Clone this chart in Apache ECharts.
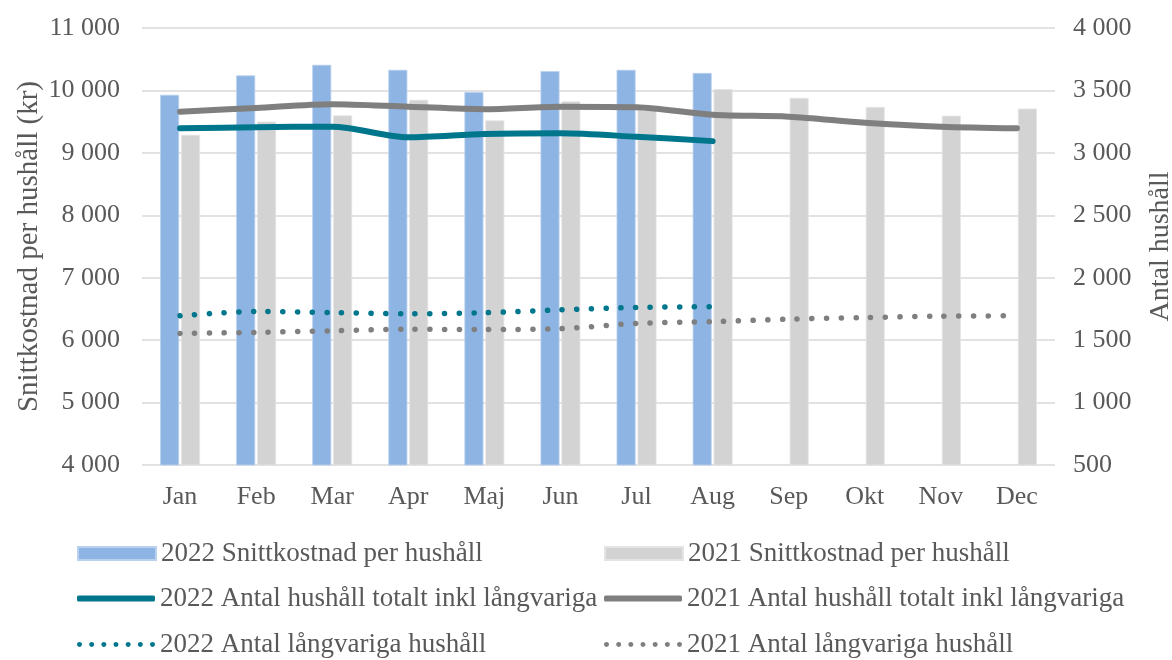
<!DOCTYPE html>
<html>
<head>
<meta charset="utf-8">
<script src="https://cdn.jsdelivr.net/npm/echarts@6/dist/echarts.min.js"></script>
<style>
html,body{margin:0;padding:0;background:#fff;}
#chart{width:1172px;height:660px;}
</style>
</head>
<body>
<div id="chart"></div>
<script>
const months = ['Jan','Feb','Mar','Apr','Maj','Jun','Jul','Aug','Sep','Okt','Nov','Dec'];
const cost2022 = [9930, 10240, 10410, 10330, 9975, 10310, 10330, 10280];
const cost2021 = [9290, 9500, 9600, 9850, 9520, 9825, 9720, 10020, 9880, 9735, 9595, 9710];
const total2022 = [3197, 3205, 3210, 3125, 3151, 3157, 3129, 3094];
const total2021 = [3330, 3360, 3390, 3370, 3350, 3370, 3366, 3305, 3290, 3242, 3210, 3197];
const long2022 = [1695, 1730, 1721, 1711, 1720, 1743, 1762, 1768];
const long2021 = [1554, 1562, 1575, 1587, 1585, 1592, 1634, 1648, 1668, 1681, 1692, 1695];
const names = [
  '2022 Snittkostnad per hushåll',
  '2021 Snittkostnad per hushåll',
  '2022 Antal hushåll totalt inkl långvariga',
  '2021 Antal hushåll totalt inkl långvariga',
  '2022 Antal långvariga hushåll',
  '2021 Antal långvariga hushåll'
];

const FONT = 'Liberation Serif';
const TXT = '#595959';
const BLUE = '#8EB4E3', LGREY = '#D3D3D3', TEAL = '#00768D', DGREY = '#7F7F7F';

function fmt(v){ return String(v).replace(/\B(?=(\d{3})+(?!\d))/g, ' '); }

// dotted legend icon: 7 circles in a 78x5 box
let dots = '';
for (let i = 0; i < 7; i++) {
  const cx = 2.5 + i * 12.17;
  dots += 'M' + (cx - 2.5).toFixed(2) + ',2.5 a2.5,2.5 0 1,0 5,0 a2.5,2.5 0 1,0 -5,0 Z ';
}
const dotIcon = 'path://' + dots;

const legendText = {fontFamily: FONT, fontSize: 27, color: TXT};
function leg(name, left, cy, icon, h){
  return {
    data: [{name: name, icon: icon}],
    left: left, top: cy - 14, padding: 0,
    itemWidth: 78, itemHeight: h, itemGap: 0,
    textStyle: legendText, selectedMode: false
  };
}

const option = {
  animation: false,
  backgroundColor: '#fff',
  textStyle: {fontFamily: FONT},
  grid: {left: 142, right: 117, top: 28, bottom: 195, containLabel: false, outerBoundsMode: 'none'},
  legend: [
    leg(names[0], 77, 554, 'rect', 13),
    leg(names[1], 604, 554, 'rect', 13),
    leg(names[2], 77, 599, 'roundRect', 6),
    leg(names[3], 604, 599, 'roundRect', 6),
    leg(names[4], 77, 645, dotIcon, 5),
    leg(names[5], 604, 645, dotIcon, 5)
  ],
  xAxis: {
    type: 'category', data: months,
    axisLine: {show: false}, axisTick: {show: false},
    axisLabel: {fontFamily: FONT, fontSize: 26, color: TXT, margin: 19}
  },
  yAxis: [
    {
      type: 'value', min: 4000, max: 11000, interval: 1000,
      name: 'Snittkostnad per hushåll (kr)', nameLocation: 'middle', nameGap: 98,
      nameMoveOverlap: false,
      nameTextStyle: {fontFamily: FONT, fontSize: 29, color: TXT},
      axisLine: {show: false}, axisTick: {show: false},
      axisLabel: {fontFamily: FONT, fontSize: 26, color: TXT, margin: 22, formatter: fmt},
      splitLine: {lineStyle: {color: '#D9D9D9', width: 1.5}}
    },
    {
      type: 'value', min: 500, max: 4000, interval: 500, position: 'right',
      name: 'Antal hushåll', nameLocation: 'middle', nameGap: 92,
      nameMoveOverlap: false,
      nameTextStyle: {fontFamily: FONT, fontSize: 28, color: TXT},
      axisLine: {show: false}, axisTick: {show: false},
      axisLabel: {fontFamily: FONT, fontSize: 26, color: TXT, margin: 18, formatter: fmt},
      splitLine: {show: false}
    }
  ],
  series: [
    {name: names[0], type: 'bar', data: cost2022, barWidth: 19, barGap: '10%',
     itemStyle: {color: BLUE, borderColor: '#B9D0EE', borderWidth: 0.8}},
    {name: names[1], type: 'bar', data: cost2021, barWidth: 19,
     itemStyle: {color: LGREY, borderColor: '#E4E4E4', borderWidth: 0.8}},
    {name: names[2], type: 'line', yAxisIndex: 1, data: total2022, smooth: 0.3,
     symbol: 'none', z: 5, itemStyle: {color: TEAL},
     lineStyle: {color: TEAL, width: 6, cap: 'round', join: 'round'}},
    {name: names[3], type: 'line', yAxisIndex: 1, data: total2021, smooth: 0.3,
     symbol: 'none', z: 4, itemStyle: {color: DGREY},
     lineStyle: {color: DGREY, width: 6, cap: 'round', join: 'round'}},
    {name: names[4], type: 'line', yAxisIndex: 1, data: long2022, smooth: 0.3,
     symbol: 'none', z: 5, itemStyle: {color: TEAL},
     lineStyle: {color: TEAL, width: 5.5, type: [0.1, 14.6], cap: 'round'}},
    {name: names[5], type: 'line', yAxisIndex: 1, data: long2021, smooth: 0.3,
     symbol: 'none', z: 4, itemStyle: {color: DGREY},
     lineStyle: {color: DGREY, width: 5.5, type: [0.1, 14.6], cap: 'round'}}
  ]
};

const chart = echarts.init(document.getElementById('chart'), null, {renderer: 'canvas'});
chart.setOption(option);
</script>
</body>
</html>
